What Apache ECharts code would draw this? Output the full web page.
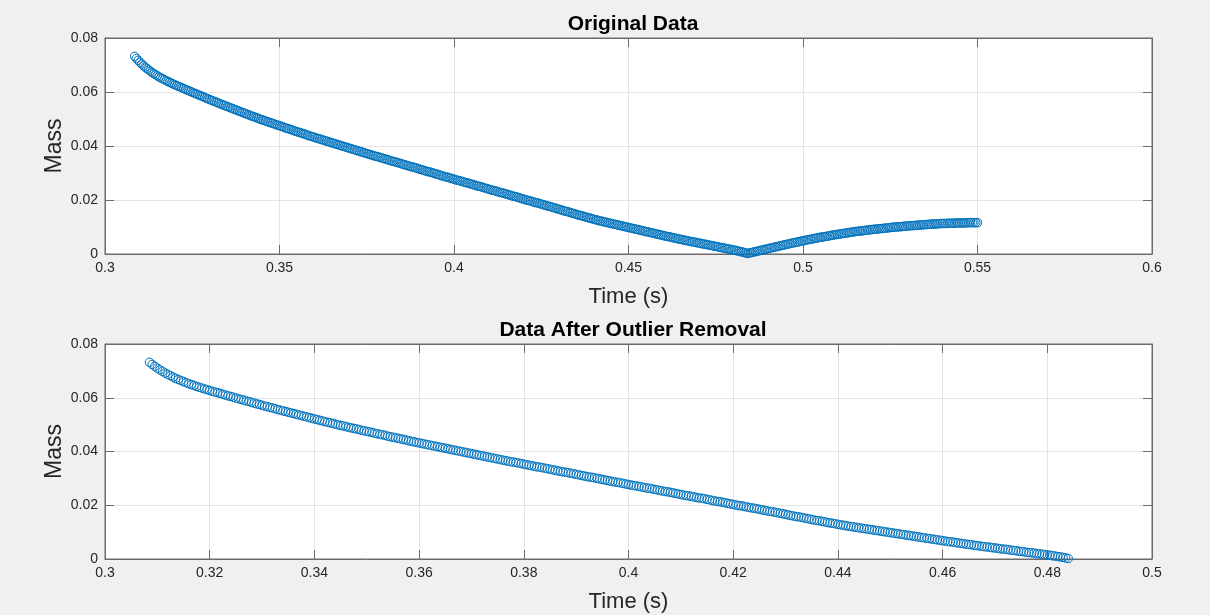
<!DOCTYPE html>
<html>
<head>
<meta charset="utf-8">
<script src="https://cdn.jsdelivr.net/npm/echarts@6/dist/echarts.min.js"></script>
<style>
html,body{margin:0;padding:0;background:#f0f0f0;}
#chart{width:1210px;height:615px;}
</style>
</head>
<body>
<div id="chart"></div>
<script>
// ---- Data ----
const time = [
0.3085,0.3090,0.3095,
0.3100,0.3105,0.3110,0.3115,0.3120,0.3125,0.3130,0.3135,0.3140,0.3145,0.3150,0.3155,0.3160,0.3165,0.3170,0.3175,0.3180,0.3185,0.3190,0.3195,
0.3200,0.3205,0.3210,0.3215,0.3220,0.3225,0.3230,0.3235,0.3240,0.3245,0.3250,0.3255,0.3260,0.3265,0.3270,0.3275,0.3280,0.3285,0.3290,0.3295,
0.3300,0.3305,0.3310,0.3315,0.3320,0.3325,0.3330,0.3335,0.3340,0.3345,0.3350,0.3355,0.3360,0.3365,0.3370,0.3375,0.3380,0.3385,0.3390,0.3395,
0.3400,0.3405,0.3410,0.3415,0.3420,0.3425,0.3430,0.3435,0.3440,0.3445,0.3450,0.3455,0.3460,0.3465,0.3470,0.3475,0.3480,0.3485,0.3490,0.3495,
0.3500,0.3505,0.3510,0.3515,0.3520,0.3525,0.3530,0.3535,0.3540,0.3545,0.3550,0.3555,0.3560,0.3565,0.3570,0.3575,0.3580,0.3585,0.3590,0.3595,
0.3600,0.3605,0.3610,0.3615,0.3620,0.3625,0.3630,0.3635,0.3640,0.3645,0.3650,0.3655,0.3660,0.3665,0.3670,0.3675,0.3680,0.3685,0.3690,0.3695,
0.3700,0.3705,0.3710,0.3715,0.3720,0.3725,0.3730,0.3735,0.3740,0.3745,0.3750,0.3755,0.3760,0.3765,0.3770,0.3775,0.3780,0.3785,0.3790,0.3795,
0.3800,0.3805,0.3810,0.3815,0.3820,0.3825,0.3830,0.3835,0.3840,0.3845,0.3850,0.3855,0.3860,0.3865,0.3870,0.3875,0.3880,0.3885,0.3890,0.3895,
0.3900,0.3905,0.3910,0.3915,0.3920,0.3925,0.3930,0.3935,0.3940,0.3945,0.3950,0.3955,0.3960,0.3965,0.3970,0.3975,0.3980,0.3985,0.3990,0.3995,
0.4000,0.4005,0.4010,0.4015,0.4020,0.4025,0.4030,0.4035,0.4040,0.4045,0.4050,0.4055,0.4060,0.4065,0.4070,0.4075,0.4080,0.4085,0.4090,0.4095,
0.4100,0.4105,0.4110,0.4115,0.4120,0.4125,0.4130,0.4135,0.4140,0.4145,0.4150,0.4155,0.4160,0.4165,0.4170,0.4175,0.4180,0.4185,0.4190,0.4195,
0.4200,0.4205,0.4210,0.4215,0.4220,0.4225,0.4230,0.4235,0.4240,0.4245,0.4250,0.4255,0.4260,0.4265,0.4270,0.4275,0.4280,0.4285,0.4290,0.4295,
0.4300,0.4305,0.4310,0.4315,0.4320,0.4325,0.4330,0.4335,0.4340,0.4345,0.4350,0.4355,0.4360,0.4365,0.4370,0.4375,0.4380,0.4385,0.4390,0.4395,
0.4400,0.4405,0.4410,0.4415,0.4420,0.4425,0.4430,0.4435,0.4440,0.4445,0.4450,0.4455,0.4460,0.4465,0.4470,0.4475,0.4480,0.4485,0.4490,0.4495,
0.4500,0.4505,0.4510,0.4515,0.4520,0.4525,0.4530,0.4535,0.4540,0.4545,0.4550,0.4555,0.4560,0.4565,0.4570,0.4575,0.4580,0.4585,0.4590,0.4595,
0.4600,0.4605,0.4610,0.4615,0.4620,0.4625,0.4630,0.4635,0.4640,0.4645,0.4650,0.4655,0.4660,0.4665,0.4670,0.4675,0.4680,0.4685,0.4690,0.4695,
0.4700,0.4705,0.4710,0.4715,0.4720,0.4725,0.4730,0.4735,0.4740,0.4745,0.4750,0.4755,0.4760,0.4765,0.4770,0.4775,0.4780,0.4785,0.4790,0.4795,
0.4800,0.4805,0.4810,0.4815,0.4820,0.4825,0.4830,0.4835,0.4840,0.4845,0.4850,0.4855,0.4860,0.4865,0.4870,0.4875,0.4880,0.4885,0.4890,0.4895,
0.4900,0.4905,0.4910,0.4915,0.4920,0.4925,0.4930,0.4935,0.4940,0.4945,0.4950,0.4955,0.4960,0.4965,0.4970,0.4975,0.4980,0.4985,0.4990,0.4995,
0.5000,0.5005,0.5010,0.5015,0.5020,0.5025,0.5030,0.5035,0.5040,0.5045,0.5050,0.5055,0.5060,0.5065,0.5070,0.5075,0.5080,0.5085,0.5090,0.5095,
0.5100,0.5105,0.5110,0.5115,0.5120,0.5125,0.5130,0.5135,0.5140,0.5145,0.5150,0.5155,0.5160,0.5165,0.5170,0.5175,0.5180,0.5185,0.5190,0.5195,
0.5200,0.5205,0.5210,0.5215,0.5220,0.5225,0.5230,0.5235,0.5240,0.5245,0.5250,0.5255,0.5260,0.5265,0.5270,0.5275,0.5280,0.5285,0.5290,0.5295,
0.5300,0.5305,0.5310,0.5315,0.5320,0.5325,0.5330,0.5335,0.5340,0.5345,0.5350,0.5355,0.5360,0.5365,0.5370,0.5375,0.5380,0.5385,0.5390,0.5395,
0.5400,0.5405,0.5410,0.5415,0.5420,0.5425,0.5430,0.5435,0.5440,0.5445,0.5450,0.5455,0.5460,0.5465,0.5470,0.5475,0.5480,0.5485,0.5490,0.5495,
0.5500
];
const mass = [
0.0732,0.0724,0.0717,
0.0710,0.0704,0.0698,0.0692,0.0687,0.0682,0.0677,0.0672,0.0668,0.0664,0.0660,0.0656,0.0652,0.0649,0.0646,0.0642,0.0639,0.0636,0.0633,0.0630,
0.0627,0.0624,0.0621,0.0619,0.0616,0.0613,0.0610,0.0607,0.0605,0.0602,0.0599,0.0596,0.0594,0.0591,0.0588,0.0586,0.0583,0.0580,0.0577,0.0575,
0.0572,0.0569,0.0567,0.0564,0.0562,0.0559,0.0556,0.0554,0.0551,0.0549,0.0546,0.0544,0.0541,0.0539,0.0536,0.0534,0.0531,0.0529,0.0526,0.0524,
0.0521,0.0519,0.0516,0.0514,0.0511,0.0509,0.0507,0.0504,0.0502,0.0499,0.0497,0.0495,0.0493,0.0490,0.0488,0.0486,0.0484,0.0482,0.0479,0.0477,
0.0475,0.0473,0.0471,0.0468,0.0466,0.0464,0.0462,0.0460,0.0457,0.0455,0.0453,0.0451,0.0449,0.0447,0.0445,0.0443,0.0440,0.0438,0.0436,0.0434,
0.0432,0.0430,0.0428,0.0426,0.0424,0.0422,0.0420,0.0418,0.0416,0.0414,0.0412,0.0410,0.0408,0.0406,0.0404,0.0402,0.0400,0.0398,0.0396,0.0394,
0.0392,0.0390,0.0388,0.0386,0.0384,0.0382,0.0380,0.0378,0.0376,0.0374,0.0372,0.0370,0.0368,0.0366,0.0364,0.0362,0.0361,0.0359,0.0357,0.0355,
0.0353,0.0351,0.0349,0.0347,0.0345,0.0343,0.0342,0.0340,0.0338,0.0336,0.0334,0.0332,0.0330,0.0328,0.0326,0.0324,0.0323,0.0321,0.0319,0.0317,
0.0315,0.0313,0.0311,0.0309,0.0307,0.0305,0.0304,0.0302,0.0300,0.0298,0.0296,0.0294,0.0292,0.0290,0.0288,0.0286,0.0285,0.0283,0.0281,0.0279,
0.0277,0.0275,0.0273,0.0272,0.0270,0.0268,0.0266,0.0264,0.0263,0.0261,0.0259,0.0257,0.0255,0.0253,0.0251,0.0250,0.0248,0.0246,0.0244,0.0242,
0.0240,0.0238,0.0236,0.0235,0.0233,0.0231,0.0229,0.0227,0.0226,0.0224,0.0222,0.0220,0.0218,0.0216,0.0214,0.0213,0.0211,0.0209,0.0207,0.0205,
0.0203,0.0201,0.0199,0.0198,0.0196,0.0194,0.0192,0.0190,0.0189,0.0187,0.0185,0.0183,0.0181,0.0179,0.0177,0.0176,0.0174,0.0172,0.0170,0.0168,
0.0166,0.0164,0.0162,0.0160,0.0158,0.0157,0.0155,0.0153,0.0151,0.0149,0.0147,0.0145,0.0143,0.0142,0.0140,0.0138,0.0136,0.0134,0.0133,0.0131,
0.0129,0.0127,0.0126,0.0124,0.0122,0.0121,0.0119,0.0118,0.0116,0.0115,0.0113,0.0112,0.0110,0.0109,0.0107,0.0106,0.0104,0.0103,0.0101,0.0100,
0.0098,0.0097,0.0095,0.0094,0.0092,0.0091,0.0089,0.0088,0.0086,0.0085,0.0083,0.0082,0.0080,0.0079,0.0077,0.0076,0.0074,0.0073,0.0071,0.0070,
0.0068,0.0067,0.0065,0.0064,0.0063,0.0061,0.0060,0.0058,0.0057,0.0055,0.0054,0.0053,0.0051,0.0050,0.0049,0.0047,0.0046,0.0045,0.0044,0.0042,
0.0041,0.0040,0.0038,0.0037,0.0036,0.0035,0.0033,0.0032,0.0031,0.0029,0.0028,0.0027,0.0025,0.0024,0.0023,0.0022,0.0020,0.0019,0.0018,0.0016,
0.0015,0.0014,0.0012,0.0011,0.0009,0.0008,0.0006,0.0004,0.0002,0.0003,0.0005,0.0006,0.0008,0.0009,0.0011,0.0012,0.0014,0.0015,0.0017,0.0018,
0.0020,0.0021,0.0023,0.0024,0.0026,0.0027,0.0029,0.0030,0.0032,0.0033,0.0035,0.0036,0.0038,0.0039,0.0041,0.0042,0.0043,0.0045,0.0046,0.0048,
0.0049,0.0050,0.0052,0.0053,0.0054,0.0055,0.0057,0.0058,0.0059,0.0061,0.0062,0.0063,0.0064,0.0065,0.0066,0.0067,0.0069,0.0070,0.0071,0.0072,
0.0073,0.0074,0.0075,0.0076,0.0077,0.0078,0.0079,0.0080,0.0081,0.0082,0.0083,0.0084,0.0085,0.0085,0.0086,0.0087,0.0088,0.0089,0.0089,0.0090,
0.0091,0.0092,0.0092,0.0093,0.0094,0.0094,0.0095,0.0096,0.0096,0.0097,0.0098,0.0099,0.0099,0.0100,0.0100,0.0101,0.0101,0.0102,0.0103,0.0103,
0.0104,0.0104,0.0105,0.0105,0.0106,0.0106,0.0107,0.0107,0.0108,0.0108,0.0109,0.0109,0.0110,0.0110,0.0111,0.0111,0.0111,0.0112,0.0112,0.0113,
0.0113,0.0113,0.0113,0.0114,0.0114,0.0114,0.0114,0.0114,0.0115,0.0115,0.0115,0.0115,0.0115,0.0115,0.0116,0.0116,0.0116,0.0116,0.0116,0.0116,
0.0116
];
// Points after the minimum (the rising tail) are the outliers removed in the lower plot
const outlierCutoffTime = 0.4840;

const titles = ['Original Data', 'Data After Outlier Removal'];
const xLabel = 'Time (s)';
const yLabel = 'Mass';
const xRangeTop = [0.3, 0.6, 0.05];
const xRangeBottom = [0.3, 0.5, 0.02];
const yRange = [0, 0.08, 0.02];

// ---- Build chart ----
const originalData = time.map((t, i) => [t, mass[i]]);
const cleanedData = originalData.filter(d => d[0] <= outlierCutoffTime + 1e-9);

const FONT = '"Liberation Sans", Arial, Helvetica, sans-serif';
const TXT = '#262626';
const AXC = '#6b6b6b';
const GRIDC = '#e3e3e3';
const BLUE = '#0072BD';

const fmt = v => String(+v.toFixed(4));

const grids = [
  {left: 105, top: 38, width: 1047, height: 216},
  {left: 105, top: 344, width: 1047, height: 215}
];

function mainX(gi, r) {
  return {
    type: 'value', gridIndex: gi, min: r[0], max: r[1], interval: r[2],
    position: 'bottom',
    name: xLabel, nameLocation: 'middle', nameGap: 32,
    nameTextStyle: {fontFamily: FONT, fontSize: 22, color: TXT},
    axisLine: {show: true, onZero: false, lineStyle: {color: AXC, width: 1}},
    axisTick: {show: true, inside: true, length: 9, lineStyle: {color: AXC}},
    axisLabel: {fontFamily: FONT, fontSize: 14, color: TXT, margin: 7, formatter: fmt},
    splitLine: {show: true, lineStyle: {color: GRIDC, width: 1}}
  };
}
function topX(gi, r) {
  return {
    type: 'value', gridIndex: gi, min: r[0], max: r[1], interval: r[2],
    position: 'top',
    axisLine: {show: true, onZero: false, lineStyle: {color: AXC, width: 1}},
    axisTick: {show: true, inside: true, length: 9, lineStyle: {color: AXC}},
    axisLabel: {show: false},
    splitLine: {show: false}
  };
}
function mainY(gi) {
  return {
    type: 'value', gridIndex: gi, min: yRange[0], max: yRange[1], interval: yRange[2],
    position: 'left',
    name: yLabel, nameLocation: 'middle', nameGap: 39, nameRotate: 90,
    nameMoveOverlap: false,
    nameTextStyle: {fontFamily: FONT, fontSize: 23, color: TXT},
    axisLine: {show: true, onZero: false, lineStyle: {color: AXC, width: 1}},
    axisTick: {show: true, inside: true, length: 9, lineStyle: {color: AXC}},
    axisLabel: {fontFamily: FONT, fontSize: 14, color: TXT, margin: 7, formatter: fmt},
    splitLine: {show: true, lineStyle: {color: GRIDC, width: 1}}
  };
}
function rightY(gi) {
  return {
    type: 'value', gridIndex: gi, min: yRange[0], max: yRange[1], interval: yRange[2],
    position: 'right',
    axisLine: {show: true, onZero: false, lineStyle: {color: AXC, width: 1}},
    axisTick: {show: true, inside: true, length: 9, lineStyle: {color: AXC}},
    axisLabel: {show: false},
    splitLine: {show: false}
  };
}

const scatterStyle = {
  type: 'scatter',
  symbol: 'circle',
  symbolSize: 8.5,
  itemStyle: {color: 'rgba(0,0,0,0)', borderColor: BLUE, borderWidth: 1, opacity: 1},
  emphasis: {disabled: true},
  silent: true
};

const option = {
  animation: false,
  backgroundColor: '#f0f0f0',
  title: [
    {text: titles[0], left: 628, top: 9, textAlign: 'center',
     textStyle: {fontFamily: FONT, fontSize: 21, fontWeight: 'bold', color: '#000'}},
    {text: titles[1], left: 628, top: 315, textAlign: 'center',
     textStyle: {fontFamily: FONT, fontSize: 21, fontWeight: 'bold', color: '#000'}}
  ],
  grid: grids.map(g => Object.assign({show: true, backgroundColor: '#ffffff', borderColor: AXC, borderWidth: 1}, g)),
  xAxis: [mainX(0, xRangeTop), mainX(1, xRangeBottom), topX(0, xRangeTop), topX(1, xRangeBottom)],
  yAxis: [mainY(0), mainY(1), rightY(0), rightY(1)],
  series: [
    Object.assign({}, scatterStyle, {name: titles[0], xAxisIndex: 0, yAxisIndex: 0, data: originalData}),
    Object.assign({}, scatterStyle, {name: titles[1], xAxisIndex: 1, yAxisIndex: 1, data: cleanedData})
  ]
};

const chart = echarts.init(document.getElementById('chart'), null, {renderer: 'canvas'});
chart.setOption(option);
</script>
</body>
</html>
